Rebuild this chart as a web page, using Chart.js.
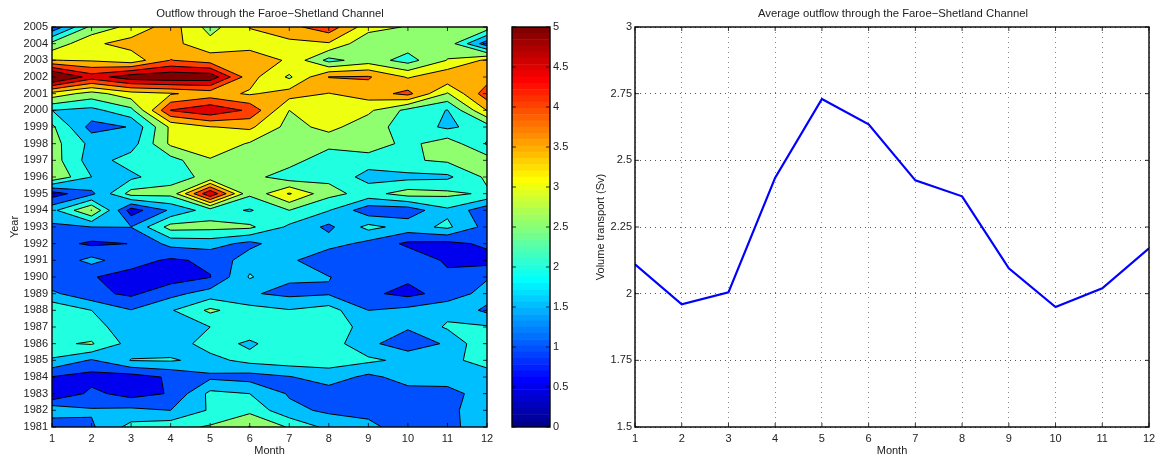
<!DOCTYPE html>
<html>
<head>
<meta charset="utf-8">
<title>Outflow through the Faroe-Shetland Channel</title>
<script src="https://cdn.jsdelivr.net/npm/chart.js@4/dist/chart.umd.min.js"></script>
<style>
    html, body { margin: 0; padding: 0; background: #fff; overflow: hidden; width: 1157px; height: 457px; }
    canvas { position: absolute; top: 0; }
</style>
</head>
<body>
<canvas id="contourChart" width="540" height="457" style="left:0"></canvas>
<canvas id="colorbarChart" width="75" height="457" style="left:495px"></canvas>
<canvas id="meanChart" width="606" height="457" style="left:590px"></canvas>
<script>
// ============================================================================
// Data
// ============================================================================

const months = [1, 2, 3, 4, 5, 6, 7, 8, 9, 10, 11, 12];
const years = [1981, 1982, 1983, 1984, 1985, 1986, 1987, 1988, 1989, 1990, 1991, 1992, 1993,
    1994, 1995, 1996, 1997, 1998, 1999, 2000, 2001, 2002, 2003, 2004, 2005];
const contourLevels = [0.5, 1, 1.5, 2, 2.5, 3, 3.5, 4, 4.5, 5];

// Monthly volume transport (Sv), one array per year
const flow1981 = [1.03, 1.43, 2.17, 2.32, 2.56, 3.02, 2.45, 1.85, 1.65, 1.2, 1.4, 1.7];
const flow1982 = [1.9, 1.55, 1.62, 1.5, 2.06, 2.37, 1.63, 1.41, 1.33, 1.15, 1.35, 1.85];
const flow1983 = [0.49, 1.13, 0.8, 1.04, 2.13, 2.0, 1.45, 1.25, 1.1, 1.32, 1.35, 1.7];
const flow1984 = [0.98, 0.8, 0.78, 1.07, 1.4, 1.3, 1.47, 1.75, 1.38, 1.7, 1.7, 1.65];
const flow1985 = [1.93, 1.45, 2.02, 2.05, 1.85, 2.15, 2.27, 2.22, 2.1, 1.87, 1.8, 2.3];
const flow1986 = [2.42, 2.55, 1.8, 1.75, 2.2, 1.92, 2.3, 2.25, 1.62, 1.2, 1.57, 2.45];
const flow1987 = [2.3, 2.2, 1.7, 1.75, 2.0, 2.3, 2.4, 2.3, 1.8, 1.56, 2.07, 2.05];
const flow1988 = [2.4, 2.0, 1.52, 1.95, 2.6, 2.2, 2.03, 2.22, 1.5, 1.65, 1.85, 1.4];
const flow1989 = [1.6, 1.14, 0.9, 1.35, 1.72, 1.55, 1.38, 1.45, 1.1, 0.85, 1.2, 1.7];
const flow1990 = [1.1, 1.03, 0.82, 0.75, 0.98, 2.05, 1.57, 1.52, 1.2, 1.1, 1.1, 1.45];
const flow1991 = [1.15, 1.65, 1.2, 0.92, 1.1, 1.8, 1.62, 1.05, 1.15, 1.35, 0.92, 0.8];
const flow1992 = [1.2, 0.91, 1.01, 1.65, 1.72, 1.35, 1.85, 1.72, 1.35, 0.9, 0.85, 1.1];
const flow1993 = [1.4, 1.5, 1.51, 2.7, 2.65, 2.6, 1.9, 1.39, 2.15, 1.8, 2.1, 1.32];
const flow1994 = [1.85, 3.02, 0.75, 1.58, 2.25, 1.95, 2.5, 2.02, 1.18, 1.2, 1.9, 1.15];
const flow1995 = [0.75, 1.38, 2.7, 2.65, 4.95, 2.6, 3.55, 2.65, 2.32, 2.72, 2.62, 2.42];
const flow1996 = [2.95, 2.0, 1.88, 2.35, 2.6, 2.7, 2.2, 2.4, 1.8, 1.85, 1.9, 2.6];
const flow1997 = [2.75, 1.75, 2.23, 2.3, 2.95, 2.75, 2.73, 2.15, 2.25, 2.44, 2.58, 2.75];
const flow1998 = [2.7, 1.86, 1.76, 3.1, 3.35, 2.95, 2.75, 2.67, 2.8, 2.35, 2.8, 1.95];
const flow1999 = [2.6, 1.3, 1.53, 3.1, 3.48, 3.6, 2.82, 3.15, 2.7, 2.3, 1.9, 2.25];
const flow2000 = [2.0, 1.85, 2.35, 4.52, 4.9, 4.4, 3.0, 3.2, 3.1, 2.35, 1.98, 3.52];
const flow2001 = [3.3, 2.8, 3.3, 3.45, 3.7, 3.44, 3.72, 3.48, 3.75, 4.15, 2.95, 4.3];
const flow2002 = [5.8, 4.75, 5.3, 5.4, 5.35, 3.68, 2.92, 4.02, 4.05, 3.45, 3.9, 3.75];
const flow2003 = [3.52, 3.45, 3.2, 4.02, 3.76, 3.8, 3.43, 2.34, 2.75, 2.3, 3.02, 3.6];
const flow2004 = [2.65, 3.4, 3.7, 3.65, 3.18, 3.3, 3.37, 3.45, 2.6, 2.75, 2.8, 1.2];
const flow2005 = [1.1, 2.65, 3.15, 3.75, 2.8, 3.52, 3.85, 4.3, 3.2, 2.96, 2.8, 2.8];

const flowByYear = [flow1981, flow1982, flow1983, flow1984, flow1985, flow1986, flow1987, flow1988,
    flow1989, flow1990, flow1991, flow1992, flow1993, flow1994, flow1995, flow1996, flow1997,
    flow1998, flow1999, flow2000, flow2001, flow2002, flow2003, flow2004, flow2005];

// Average outflow per month (Sv)
const meanOutflow = [2.11, 1.96, 2.005, 2.435, 2.73, 2.635, 2.425, 2.365, 2.095, 1.95, 2.02, 2.17];

// ============================================================================
// Styling helpers
// ============================================================================

const FONT_FAMILY = "'Liberation Sans', Arial, sans-serif";
const TEXT_COLOR = "#222";
const BAR_STEPS = 64;

/**
 * MATLAB style jet colormap, 64 entries
 * @param {number} value - Position on the colour scale, 0 to 1
 * @returns {string} CSS colour
 */
function jetColor(value) {
    const i = Math.min(BAR_STEPS, Math.floor(value * BAR_STEPS + 1e-9) + 1);
    const ramp = (centre) => Math.max(0, Math.min(1, 1.5 - Math.abs(i - centre) / 16));
    const toByte = (v) => Math.round(v * 255);
    return `rgb(${toByte(ramp(48))},${toByte(ramp(32))},${toByte(ramp(16))})`;
}

const colorForLevel = (level) => jetColor(Math.min(level / 5, 1));

// ============================================================================
// Contour geometry (data coordinates, linear along the grid edges)
// ============================================================================

/**
 * Cut one grid cell at a level
 * @returns {Object} polygons above the level and contour segments
 */
function cutCell(corners, level) {
    const above = corners.map((c) => c.z >= level);
    const crossing = (a, b) => {
        const t = (level - a.z) / (b.z - a.z);
        return { x: a.x + t * (b.x - a.x), y: a.y + t * (b.y - a.y) };
    };
    const outline = [];
    const crossings = [];
    corners.forEach((corner, i) => {
        const next = corners[(i + 1) % 4];
        if (above[i]) outline.push(corner);
        if (above[i] !== above[(i + 1) % 4]) {
            const point = crossing(corner, next);
            outline.push(point);
            crossings.push({ point, edge: i });
        }
    });

    if (crossings.length === 2) {
        return { polygons: [outline], segments: [[crossings[0].point, crossings[1].point]] };
    }
    if (crossings.length === 4) {
        // Saddle: the cell mean decides how the crossings pair up
        const mean = corners.reduce((sum, c) => sum + c.z, 0) / 4;
        const polygons = [];
        const segments = [];
        corners.forEach((corner, i) => {
            const before = crossings.find((c) => c.edge === (i + 3) % 4).point;
            const after = crossings.find((c) => c.edge === i).point;
            if (mean < level && above[i]) {
                polygons.push([before, corner, after]);
                segments.push([before, after]);
            } else if (mean >= level && !above[i]) {
                segments.push([before, after]);
            }
        });
        return { polygons: mean < level ? polygons : [outline], segments };
    }
    return { polygons: above[0] ? [outline] : [], segments: [] };
}

function buildContourBand(level) {
    const polygons = [];
    const segments = [];
    for (let j = 0; j < years.length - 1; j++) {
        for (let i = 0; i < months.length - 1; i++) {
            const corners = [
                { x: months[i], y: years[j], z: flowByYear[j][i] },
                { x: months[i + 1], y: years[j], z: flowByYear[j][i + 1] },
                { x: months[i + 1], y: years[j + 1], z: flowByYear[j + 1][i + 1] },
                { x: months[i], y: years[j + 1], z: flowByYear[j + 1][i] },
            ];
            const cut = cutCell(corners, level);
            polygons.push(...cut.polygons);
            segments.push(...cut.segments);
        }
    }
    return { level, polygons, segments };
}

const contourBands = contourLevels.map(buildContourBand);

// ============================================================================
// Plugins
// ============================================================================

// Filled bands and black contour lines, placed through the chart scales
const contourPlugin = {
    id: "contourPlugin",
    beforeDatasetsDraw(chart) {
        const { ctx, chartArea, scales } = chart;
        const px = (p) => [scales.x.getPixelForValue(p.x), scales.y.getPixelForValue(p.y)];

        ctx.save();
        ctx.beginPath();
        ctx.rect(chartArea.left, chartArea.top, chartArea.width, chartArea.height);
        ctx.clip();

        ctx.fillStyle = colorForLevel(0);
        ctx.fillRect(chartArea.left, chartArea.top, chartArea.width, chartArea.height);

        for (const band of contourBands) {
            ctx.beginPath();
            for (const polygon of band.polygons) {
                polygon.forEach((point, i) => {
                    const [x, y] = px(point);
                    if (i === 0) ctx.moveTo(x, y);
                    else ctx.lineTo(x, y);
                });
                ctx.closePath();
            }
            ctx.fillStyle = colorForLevel(band.level);
            ctx.fill();
        }

        ctx.beginPath();
        for (const band of contourBands) {
            for (const [from, to] of band.segments) {
                ctx.moveTo(...px(from));
                ctx.lineTo(...px(to));
            }
        }
        ctx.strokeStyle = "#000";
        ctx.lineWidth = 1;
        ctx.lineJoin = "round";
        ctx.stroke();
        ctx.restore();
    },
};

// Black box with short inward ticks on every side
const axesBoxPlugin = {
    id: "axesBoxPlugin",
    afterDatasetsDraw(chart, args, opts) {
        const { ctx, chartArea: area, scales } = chart;
        const tickLength = 4;

        ctx.save();
        ctx.strokeStyle = "#000";
        ctx.lineWidth = 0.8;
        ctx.beginPath();
        if (opts.xTicks !== false) {
            for (const tick of scales.x.ticks) {
                const x = scales.x.getPixelForValue(tick.value);
                ctx.moveTo(x, area.bottom);
                ctx.lineTo(x, area.bottom - tickLength);
                ctx.moveTo(x, area.top);
                ctx.lineTo(x, area.top + tickLength);
            }
        }
        for (const tick of scales.y.ticks) {
            const y = scales.y.getPixelForValue(tick.value);
            ctx.moveTo(area.left, y);
            ctx.lineTo(area.left + tickLength, y);
            ctx.moveTo(area.right, y);
            ctx.lineTo(area.right - tickLength, y);
        }
        ctx.stroke();
        ctx.lineWidth = 1.4;
        ctx.strokeRect(area.left, area.top, area.width, area.height);
        ctx.restore();
    },
};

// ============================================================================
// Chart creation
// ============================================================================

const tickFont = { family: FONT_FAMILY, size: 11 };
const titleFont = { family: FONT_FAMILY, size: 11.3, weight: "normal", lineHeight: 1.2 };
const axisTitleFont = { family: FONT_FAMILY, size: 11, lineHeight: 1.2 };

function titleOptions(text) {
    return { display: true, text, color: TEXT_COLOR, font: titleFont, padding: { top: 7, bottom: 6.44 } };
}

function monthAxis() {
    return {
        type: "linear",
        min: 1,
        max: 12,
        afterFit: (scale) => { scale.height = 30; },
        ticks: { stepSize: 1, color: TEXT_COLOR, font: tickFont, padding: 5, maxRotation: 0 },
        border: { display: false },
        grid: { display: false, drawTicks: false },
        title: { display: true, text: "Month", color: TEXT_COLOR, font: axisTitleFont, padding: { top: 0, bottom: -1 } },
    };
}

// Empty axis on the right: balances the y axis so the title sits over the plot
function spacerAxis(width) {
    return {
        position: "right",
        afterFit: (scale) => { scale.width = width; },
        ticks: { display: false },
        border: { display: false },
        grid: { display: false, drawTicks: false },
    };
}

function drawContourChart() {
    return new Chart(document.getElementById("contourChart"), {
        type: "scatter",
        data: {
            datasets: [{
                data: years.flatMap((year, j) => months.map((month, i) => ({ x: month, y: year, z: flowByYear[j][i] }))),
                pointRadius: 0,
            }],
        },
        options: {
            responsive: false,
            animation: false,
            plugins: {
                legend: { display: false },
                tooltip: { enabled: false },
                title: titleOptions("Outflow through the Faroe\u2212Shetland Channel"),
            },
            scales: {
                x: monthAxis(),
                y: {
                    type: "linear",
                    min: years[0],
                    max: years[years.length - 1],
                    afterFit: (scale) => { scale.width = 52; },
                    ticks: {
                        stepSize: 1,
                        autoSkip: false,
                        color: TEXT_COLOR,
                        font: tickFont,
                        padding: 4,
                        callback: (value) => String(value),
                    },
                    border: { display: false },
                    grid: { display: false, drawTicks: false },
                    title: { display: true, text: "Year", color: TEXT_COLOR, font: axisTitleFont, padding: { top: 8, bottom: 0 } },
                },
                spacer: spacerAxis(53),
            },
        },
        plugins: [contourPlugin, axesBoxPlugin],
    });
}

function drawColorbarChart() {
    const datasets = [];
    for (let i = 0; i < BAR_STEPS; i++) {
        datasets.push({
            data: [5 / BAR_STEPS],
            backgroundColor: jetColor((i + 0.5) / BAR_STEPS),
            borderWidth: 0,
            barPercentage: 1,
            categoryPercentage: 1,
            stack: "bar",
        });
    }

    return new Chart(document.getElementById("colorbarChart"), {
        type: "bar",
        data: { labels: [""], datasets },
        options: {
            responsive: false,
            animation: false,
            layout: { padding: { top: 27, bottom: 30, left: 17 } },
            plugins: {
                legend: { display: false },
                tooltip: { enabled: false },
                axesBoxPlugin: { xTicks: false },
            },
            scales: {
                x: { display: false, stacked: true },
                y: {
                    position: "right",
                    stacked: true,
                    min: 0,
                    max: 5,
                    afterFit: (scale) => { scale.width = 20; },
                    ticks: { stepSize: 0.5, color: TEXT_COLOR, font: tickFont, padding: 3, callback: (value) => String(value) },
                    border: { display: false },
                    grid: { display: false, drawTicks: false },
                },
            },
        },
        plugins: [axesBoxPlugin],
    });
}

function drawMeanChart() {
    return new Chart(document.getElementById("meanChart"), {
        type: "line",
        data: {
            datasets: [{
                data: months.map((month, i) => ({ x: month, y: meanOutflow[i] })),
                borderColor: "#0000ff",
                borderWidth: 2.2,
                pointRadius: 0,
                tension: 0,
            }],
        },
        options: {
            responsive: false,
            animation: false,
            plugins: {
                legend: { display: false },
                tooltip: { enabled: false },
                title: titleOptions("Average outflow through the Faroe\u2212Shetland Channel"),
            },
            scales: {
                x: {
                    ...monthAxis(),
                    border: { display: false, dash: [1, 4] },
                    grid: { display: true, drawTicks: false, color: "#888", lineWidth: 1 },
                },
                y: {
                    type: "linear",
                    min: 1.5,
                    max: 3,
                    afterFit: (scale) => { scale.width = 45; },
                    ticks: { stepSize: 0.25, color: TEXT_COLOR, font: tickFont, padding: 3, callback: (value) => String(value) },
                    border: { display: false, dash: [1, 4] },
                    grid: { display: true, drawTicks: false, color: "#555", lineWidth: 1 },
                    title: { display: true, text: "Volume transport (Sv)", color: TEXT_COLOR, font: axisTitleFont, padding: { top: 4, bottom: 0 } },
                },
                spacer: spacerAxis(47),
            },
        },
        plugins: [axesBoxPlugin],
    });
}

drawContourChart();
drawColorbarChart();
drawMeanChart();
</script>
</body>
</html>
